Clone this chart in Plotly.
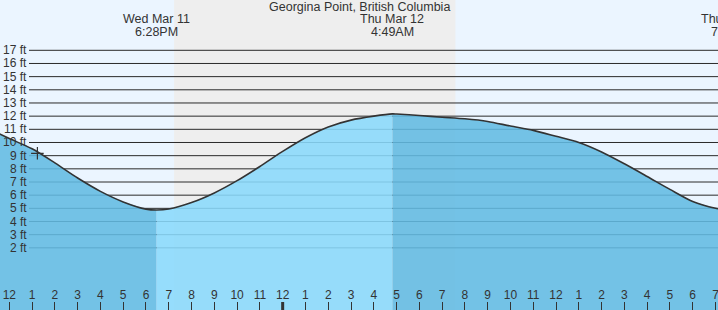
import plotly.graph_objects as go
import pandas as pd

# ---- data ----
times = [
    "2026-03-11 11:30", "2026-03-11 12:00", "2026-03-11 13:00", "2026-03-11 14:00",
    "2026-03-11 15:00", "2026-03-11 16:00", "2026-03-11 17:00", "2026-03-11 18:00",
    "2026-03-11 18:28", "2026-03-11 19:00", "2026-03-11 20:00", "2026-03-11 21:00",
    "2026-03-11 22:00", "2026-03-11 23:00", "2026-03-12 00:00", "2026-03-12 01:00",
    "2026-03-12 02:00", "2026-03-12 03:00", "2026-03-12 04:00", "2026-03-12 04:49",
    "2026-03-12 05:00", "2026-03-12 06:00", "2026-03-12 07:00", "2026-03-12 08:00",
    "2026-03-12 09:00", "2026-03-12 10:00", "2026-03-12 11:00", "2026-03-12 12:00",
    "2026-03-12 13:00", "2026-03-12 14:00", "2026-03-12 15:00", "2026-03-12 16:00",
    "2026-03-12 17:00", "2026-03-12 18:00", "2026-03-12 19:00", "2026-03-12 19:15",
]
heights_ft = [
    10.70, 10.30, 9.52, 8.45,
    7.30, 6.29, 5.49, 4.94,
    4.87, 4.95, 5.44, 6.17,
    7.10, 8.18, 9.32, 10.36,
    11.18, 11.70, 12.00, 12.17,
    12.16, 12.05, 11.92, 11.80,
    11.60, 11.25, 10.92, 10.47,
    10.00, 9.28, 8.38, 7.42,
    6.44, 5.52, 5.00, 4.93,
]

low_time = "2026-03-11 18:28"
high_time = "2026-03-12 04:49"

extreme_times = ["2026-03-11 18:28", "2026-03-12 04:49", "2026-03-12 19:46"]
extreme_dates = ["Wed Mar 11", "Thu Mar 12", "Thu Mar 12"]
extreme_clock = ["6:28PM", "4:49AM", "7:46PM"]

now_time = "2026-03-11 13:14"
now_height = 9.18

sunset = "2026-03-11 19:14"
sunrise = "2026-03-12 07:35"

y_ticks = [2, 3, 4, 5, 6, 7, 8, 9, 10, 11, 12, 13, 14, 15, 16, 17]
y_tick_labels = [f"{v} ft" for v in y_ticks]

x_tick_times = list(pd.date_range("2026-03-11 12:00", "2026-03-12 19:00", freq="h"))
x_tick_labels = ["12", "1", "2", "3", "4", "5", "6", "7", "8", "9", "10", "11",
                 "12", "1", "2", "3", "4", "5", "6", "7", "8", "9", "10", "11",
                 "12", "1", "2", "3", "4", "5", "6", "7"]
midnight = "2026-03-12 00:00"

title = "Georgina Point, British Columbia"

# ---- styling / layout constants ----
W, H = 718, 310
X_RANGE = ["2026-03-11 11:35:30", "2026-03-12 19:06:36"]
Y_RANGE = [-2.72, 20.82]
BG = "#ebf5ff"
NIGHT = "#eeeeee"
DARK_FILL = "rgba(98,187,227,0.88)"
LIGHT_FILL = "rgba(138,217,252,0.88)"
INK = "#333333"
FONT = "Liberation Sans, Arial, sans-serif"
HEAD_SIZE = 12.5
YLAB_SIZE = 12

fig = go.Figure()

i_low = times.index(low_time)
i_high = times.index(high_time)
segments = [
    (times[: i_low + 1], heights_ft[: i_low + 1], DARK_FILL),
    (times[i_low: i_high + 1], heights_ft[i_low: i_high + 1], LIGHT_FILL),
    (times[i_high:], heights_ft[i_high:], DARK_FILL),
]
for st, sh, col in segments:
    fig.add_trace(go.Scatter(
        x=st + [st[-1], st[0]],
        y=sh + [Y_RANGE[0], Y_RANGE[0]],
        mode="lines", fill="toself", fillcolor=col,
        line=dict(width=0, color=col), hoverinfo="skip", showlegend=False,
    ))

fig.add_trace(go.Scatter(
    x=times, y=heights_ft, mode="lines",
    line=dict(color=INK, width=1.6, shape="spline", smoothing=0.8),
    hoverinfo="skip", showlegend=False,
))

fig.add_trace(go.Scatter(
    x=[now_time], y=[now_height], mode="markers",
    marker=dict(symbol="cross-thin", size=9, line=dict(width=1.2, color=INK)),
    hoverinfo="skip", showlegend=False,
))

shapes = [dict(type="rect", xref="x", yref="paper", x0=sunset, x1=sunrise,
               y0=0, y1=1, fillcolor=NIGHT, line=dict(width=0), layer="below")]
for v in y_ticks:
    shapes.append(dict(type="line", xref="paper", yref="y", x0=29 / W, x1=1,
                       y0=v, y1=v, line=dict(color="#2a2a2a", width=1), layer="below"))
shapes.append(dict(type="line", xref="x", yref="paper", x0=midnight, x1=midnight,
                   y0=0, y1=8 / H, line=dict(color=INK, width=3), layer="above"))

annotations = []
for v, lab in zip(y_ticks, y_tick_labels):
    annotations.append(dict(text=lab, xref="paper", yref="y", x=27.5 / W, y=v,
                            xanchor="right", yanchor="middle", showarrow=False,
                            borderpad=0,
                            font=dict(size=YLAB_SIZE, color=INK, family=FONT)))

annotations.append(dict(text=title, xref="paper", yref="paper", x=359.5 / W,
                        y=1 - 7 / H, xanchor="center", yanchor="middle",
                        showarrow=False, borderpad=0,
                        font=dict(size=HEAD_SIZE, color=INK, family=FONT)))

t0 = pd.Timestamp(X_RANGE[0])
t1 = pd.Timestamp(X_RANGE[1])
for et, ed, ec in zip(extreme_times, extreme_dates, extreme_clock):
    frac = (pd.Timestamp(et) - t0) / (t1 - t0)
    annotations.append(dict(text=ed, xref="paper", yref="paper", x=frac,
                            y=1 - 19.5 / H, xanchor="center", yanchor="middle",
                            showarrow=False, borderpad=0,
                            font=dict(size=HEAD_SIZE, color=INK, family=FONT)))
    annotations.append(dict(text=ec, xref="paper", yref="paper", x=frac,
                            y=1 - 31.8 / H, xanchor="center", yanchor="middle",
                            showarrow=False, borderpad=0,
                            font=dict(size=HEAD_SIZE, color=INK, family=FONT)))

fig.update_layout(
    width=W, height=H,
    margin=dict(l=0, r=0, t=0, b=0, pad=0),
    paper_bgcolor=BG, plot_bgcolor=BG,
    shapes=shapes, annotations=annotations,
    showlegend=False,
    xaxis=dict(range=X_RANGE, type="date", showgrid=False, zeroline=False,
               showline=False, ticks="inside", ticklen=8, tickwidth=1,
               tickcolor=INK, tickvals=x_tick_times, ticktext=x_tick_labels,
               ticklabelposition="inside", ticklabeloverflow="allow",
               tickfont=dict(size=12, color=INK, family=FONT), fixedrange=True),
    yaxis=dict(range=Y_RANGE, showgrid=False, zeroline=False, showline=False,
               showticklabels=False, ticks="", fixedrange=True),
)

fig.write_html("out.html")
